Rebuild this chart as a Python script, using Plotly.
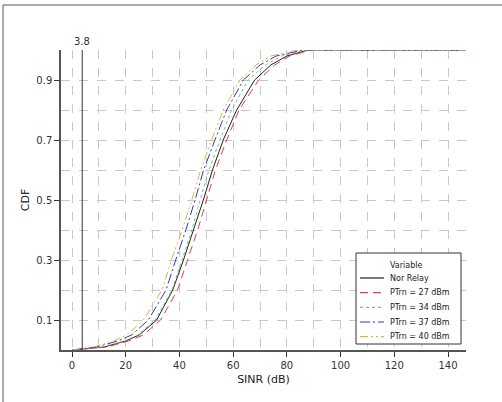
import plotly.graph_objects as go

# CDF levels (shared) and SINR (dB) at which each series reaches them
cdf_levels = [0, 0.01, 0.03, 0.05, 0.1, 0.2, 0.3, 0.4, 0.5, 0.6, 0.7, 0.8, 0.9, 0.95, 0.98, 1.0, 1.0]

sinr_nor_relay = [0, 12, 20, 25.0, 31.5, 37.5, 41.5, 45.3, 48.9, 52.3, 56.3, 61.3, 68.0, 74.0, 80.0, 88, 147]
sinr_27 = [0, 13, 21, 26.5, 33.0, 39.3, 43.0, 46.8, 50.1, 53.4, 57.6, 62.2, 69.5, 75.5, 81.0, 89, 147]
sinr_34 = [0, 11, 19.5, 24.5, 31.0, 37.2, 41.0, 44.6, 47.7, 51.0, 55.1, 59.4, 65.6, 72.0, 78.0, 87, 147]
sinr_37 = [0, 9, 17, 22.2, 28.4, 35.0, 38.6, 42.4, 45.8, 49.0, 53.2, 57.6, 63.8, 70.0, 76.0, 86, 147]
sinr_40 = [0, 8, 15.5, 20.4, 26.6, 33.5, 37.0, 41.0, 44.6, 47.9, 52.0, 56.3, 62.5, 68.5, 74.0, 84, 147]

series_names = ["Nor Relay", "PTrn = 27 dBm", "PTrn = 34 dBm", "PTrn = 37 dBm", "PTrn = 40 dBm"]
series_x = [sinr_nor_relay, sinr_27, sinr_34, sinr_37, sinr_40]
series_colors = ["#222222", "#e0404a", "#70c47a", "#3535c8", "#e8b040"]
series_dash = ["solid", "8px,5px", "3px,3px", "10px,3px,2px,3px", "8px,3px,2px,3px,2px,3px"]

ref_x = 3.8
x_ticks = [0, 20, 40, 60, 80, 100, 120, 140]
y_ticks = [0.1, 0.3, 0.5, 0.7, 0.9]

# plot-area geometry in pixels
L, R, T, B = 61, 466, 50, 350
W, H = 502, 402


def px(xp):
    return (xp - L) / (R - L)


def py(yp):
    return (B - yp) / (B - T)


fig = go.Figure()
for name, xs, col, dash in zip(series_names, series_x, series_colors, series_dash):
    fig.add_trace(go.Scatter(x=xs, y=cdf_levels, mode="lines", name=name,
                             line=dict(color=col, width=1, dash=dash)))

fig.add_vline(x=ref_x, line=dict(color="#333333", width=1))
fig.add_annotation(x=ref_x, y=1, yref="paper", text="3.8", showarrow=False,
                   yanchor="bottom", yshift=1, font=dict(size=10, color="#333333"))

# outer frame (left and top edges visible)
fig.add_shape(type="rect", xref="paper", yref="paper", x0=px(3), x1=px(W + 5), y0=py(W), y1=py(5),
              line=dict(color="#555555", width=1), layer="below")

# legend box drawn manually
fig.add_shape(type="rect", xref="paper", yref="paper", x0=px(356), x1=px(461), y0=py(344), y1=py(253),
              line=dict(color="#333333", width=1), fillcolor="white", layer="above")
fig.add_annotation(xref="paper", yref="paper", x=px(388), y=py(265), text="Variable",
                   showarrow=False, xanchor="left", yanchor="middle",
                   font=dict(size=8, color="#222222"))
row_y = [278, 292.7, 307.3, 322, 336.7]
for name, col, dash, ry in zip(series_names, series_colors, series_dash, row_y):
    fig.add_shape(type="line", xref="paper", yref="paper", x0=px(360), x1=px(384), y0=py(ry), y1=py(ry),
                  line=dict(color=col, width=1.2, dash=dash), layer="above")
    fig.add_annotation(xref="paper", yref="paper", x=px(388), y=py(ry), text=name,
                       showarrow=False, xanchor="left", yanchor="middle",
                       font=dict(size=8, color="#222222"))

fig.update_layout(
    width=W, height=H,
    margin=dict(l=L, r=W - R, t=T, b=H - B),
    paper_bgcolor="white", plot_bgcolor="white",
    font=dict(family="DejaVu Sans", size=10, color="#333333"),
    showlegend=False,
    xaxis=dict(range=[-4.1, 146.7], tickvals=x_ticks, ticks="outside", ticklen=5,
               tickcolor="#333333", showline=True, linecolor="#555555", linewidth=1.5,
               showgrid=False, zeroline=False,
               minor=dict(dtick=10, tick0=0, showgrid=True, gridcolor="#c8c8c8", griddash="dash"),
               title=dict(text="SINR (dB)", font=dict(size=11, color="#222222"), standoff=6)),
    yaxis=dict(range=[0, 1.0], tickvals=y_ticks, ticks="outside", ticklen=5,
               tickcolor="#333333", showline=True, linecolor="#555555", linewidth=1.5,
               showgrid=False, zeroline=False,
               minor=dict(dtick=0.1, tick0=0, showgrid=True, gridcolor="#c8c8c8", griddash="dash"),
               title=dict(text="CDF", font=dict(size=11, color="#222222"), standoff=4)),
)

fig.write_html("out.html")
